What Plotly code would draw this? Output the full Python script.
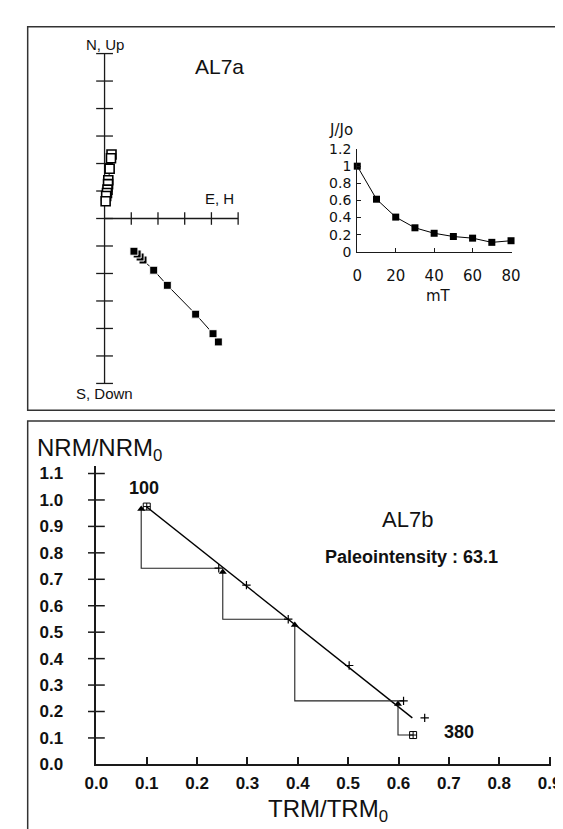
import plotly.graph_objects as go

W, H = 563, 829

# ---------------- data ----------------
# Zijderveld diagram (arbitrary units, axis tick spacing = 1)
zij_open_x = [0.26, 0.24, 0.19, 0.14, 0.13, 0.11, 0.09, 0.06, 0.04]
zij_open_y = [2.33, 2.19, 1.81, 1.39, 1.25, 1.05, 0.93, 0.82, 0.63]
zij_fill_x = [4.26, 4.06, 3.41, 2.35, 1.84, 1.44, 1.33, 1.22, 1.10]
zij_fill_y = [-4.49, -4.19, -3.48, -2.43, -1.88, -1.51, -1.40, -1.29, -1.19]
zij_vert_ticks = [-6, -5, -4, -3, -2, -1, 0, 1, 2, 3, 4, 5, 6]
zij_horz_ticks = [1, 2, 3, 4, 5]

# J/Jo vs AF field
af_mT = [0, 10, 20, 30, 40, 50, 60, 70, 80]
j_jo = [1.00, 0.614, 0.405, 0.28, 0.216, 0.178, 0.159, 0.11, 0.129]
jjo_yticks = [0, 0.2, 0.4, 0.6, 0.8, 1.0, 1.2]
jjo_yticktext = ["0", "0.2", "0.4", "0.6", "0.8", "1", "1.2"]
jjo_xticks = [0, 20, 40, 60, 80]

# Arai plot
arai_trm = [0.100, 0.243, 0.298, 0.381, 0.502, 0.610, 0.629]
arai_nrm = [0.975, 0.742, 0.678, 0.549, 0.374, 0.240, 0.111]
arai_temp_first, arai_temp_last = "100", "380"
extra_trm = [0.652]
extra_nrm = [0.176]
fit_trm = [0.0996, 0.6275]
fit_nrm = [0.974, 0.176]
check_trm = [0.089, 0.251, 0.394, 0.599]
check_nrm = [0.966, 0.728, 0.527, 0.228]
check_end_trm = [0.243, 0.381, 0.610, 0.629]
check_end_nrm = [0.742, 0.549, 0.240, 0.111]
arai_xticks = [0.0, 0.1, 0.2, 0.3, 0.4, 0.5, 0.6, 0.7, 0.8, 0.9]
arai_yticks = [0.0, 0.1, 0.2, 0.3, 0.4, 0.5, 0.6, 0.7, 0.8, 0.9, 1.0, 1.1]
paleointensity = 63.1

# ---------------- helpers (pixel layout) ----------------
def xdom(p0, p1):
    return [p0 / W, p1 / W]

def ydom(top, bottom):
    return [1 - bottom / H, 1 - top / H]

def px(x):
    return x / W

def py(y):
    return 1 - y / H

AX = "#1a1a1a"
ARIAL = "Liberation Sans, Arial, sans-serif"
GENEVA = "DejaVu Sans, Verdana, sans-serif"

fig = go.Figure()

# ---------------- Zijderveld ----------------
zx0, zy0, zux, zuy = 88.0, 207.0, 27.8, 28.1
z_left, z_right, z_top, z_bot = 8, 563, 11, 403
zxr = [(z_left - zx0) / zux, (z_right - zx0) / zux]
zyr = [(zy0 - z_bot) / zuy, (zy0 - z_top) / zuy]

ax_x = [0, 0, None, 0, zij_horz_ticks[-1]]
ax_y = [zij_vert_ticks[0], zij_vert_ticks[-1], None, 0, 0]
fig.add_trace(go.Scatter(x=ax_x, y=ax_y, mode="lines", line=dict(color=AX, width=1.3),
                         xaxis="x", yaxis="y", hoverinfo="skip", showlegend=False))
fig.add_trace(go.Scatter(x=[0] * len(zij_vert_ticks), y=zij_vert_ticks, mode="markers",
                         marker=dict(symbol="line-ew", size=12, color=AX, line=dict(color=AX, width=1.3)),
                         xaxis="x", yaxis="y", hoverinfo="skip", showlegend=False, cliponaxis=False))
fig.add_trace(go.Scatter(x=zij_horz_ticks, y=[0] * len(zij_horz_ticks), mode="markers",
                         marker=dict(symbol="line-ns", size=9, color=AX, line=dict(color=AX, width=1.3)),
                         xaxis="x", yaxis="y", hoverinfo="skip", showlegend=False, cliponaxis=False))
fig.add_trace(go.Scatter(x=zij_open_x, y=zij_open_y, mode="lines+markers",
                         line=dict(color="black", width=1),
                         marker=dict(symbol="square", size=9, color="white",
                                     line=dict(color="black", width=1.6)),
                         xaxis="x", yaxis="y", showlegend=False))
fig.add_trace(go.Scatter(x=zij_fill_x, y=zij_fill_y, mode="lines+markers",
                         line=dict(color="black", width=1),
                         marker=dict(symbol="square", size=8, color="black",
                                     line=dict(color="white", width=1)),
                         xaxis="x", yaxis="y", showlegend=False))

# ---------------- J/Jo inset ----------------
fig.add_trace(go.Scatter(x=af_mT, y=j_jo, mode="lines+markers",
                         line=dict(color="black", width=1),
                         marker=dict(symbol="square", size=7, color="black"),
                         xaxis="x2", yaxis="y2", showlegend=False, cliponaxis=False))

# ---------------- Arai plot ----------------
ax0, ay0, aux, auy = 79.5, 765.0, 524.0, 270.3
a_right, a_top = 553.0, 460.0
axr = [0, (a_right - ax0) / aux]
ayr = [0, (ay0 - a_top) / auy]

fig.add_trace(go.Scatter(x=[0] * (len(arai_yticks) - 1), y=arai_yticks[1:], mode="markers",
                         marker=dict(symbol="line-ew", size=12, color=AX, line=dict(color=AX, width=1.5)),
                         xaxis="x3", yaxis="y3", hoverinfo="skip", showlegend=False, cliponaxis=False))
fig.add_trace(go.Scatter(x=fit_trm, y=fit_nrm, mode="lines", line=dict(color="black", width=1.4),
                         xaxis="x3", yaxis="y3", showlegend=False))
cx, cy = [], []
for t, n, te, ne in zip(check_trm, check_nrm, check_end_trm, check_end_nrm):
    cx += [t, t, te, None]
    cy += [n, ne, ne, None]
fig.add_trace(go.Scatter(x=cx, y=cy, mode="lines", line=dict(color="#222", width=1.1),
                         xaxis="x3", yaxis="y3", showlegend=False))
fig.add_trace(go.Scatter(x=check_trm, y=check_nrm, mode="markers",
                         marker=dict(symbol="triangle-up", size=7, color="black"),
                         xaxis="x3", yaxis="y3", showlegend=False))
fig.add_trace(go.Scatter(x=arai_trm[1:-1] + extra_trm, y=arai_nrm[1:-1] + extra_nrm, mode="markers",
                         marker=dict(symbol="cross-thin-open", size=6, color="black",
                                     line=dict(color="black", width=1.2)),
                         xaxis="x3", yaxis="y3", showlegend=False))
fig.add_trace(go.Scatter(x=[arai_trm[0], arai_trm[-1]], y=[arai_nrm[0], arai_nrm[-1]], mode="markers",
                         marker=dict(symbol="square-cross-open", size=7, color="black",
                                     line=dict(color="black", width=1)),
                         xaxis="x3", yaxis="y3", showlegend=False, cliponaxis=False))

# ---------------- layout ----------------
hidden = dict(visible=False, showgrid=False, zeroline=False)
fig.update_layout(
    width=W, height=H,
    margin=dict(l=0, r=0, t=0, b=0),
    paper_bgcolor="white", plot_bgcolor="rgba(0,0,0,0)",
    showlegend=False,
    xaxis=dict(domain=xdom(z_left, z_right), range=zxr, **hidden),
    yaxis=dict(domain=ydom(z_top, z_bot), range=zyr, **hidden),
    xaxis2=dict(domain=xdom(351, 512), range=[0, 80.5], anchor="y2",
                showline=True, linecolor=AX, linewidth=1.3, showgrid=False, zeroline=False,
                ticks="inside", ticklen=4, tickcolor=AX, tickvals=jjo_xticks,
                tickfont=dict(family=GENEVA, size=15, color="#111"), ticklabelstandoff=10),
    yaxis2=dict(domain=ydom(136, 241), range=[0, 1.2], anchor="x2",
                showline=True, linecolor=AX, linewidth=1.3, showgrid=False, zeroline=False,
                ticks="inside", ticklen=4, tickcolor=AX, tickvals=jjo_yticks,
                ticktext=jjo_yticktext,
                tickfont=dict(family=GENEVA, size=14, color="#111"), ticklabelstandoff=2),
    xaxis3=dict(domain=xdom(ax0, a_right), range=axr, anchor="y3",
                showline=True, linecolor=AX, linewidth=1.6, showgrid=False, zeroline=False,
                ticks="inside", ticklen=8, tickwidth=1.6, tickcolor=AX, tickvals=arai_xticks,
                tickformat=".1f",
                tickfont=dict(family=ARIAL, size=17, color="#111", weight="bold"), ticklabelstandoff=2),
    yaxis3=dict(domain=ydom(a_top, ay0), range=ayr, anchor="x3",
                showline=True, linecolor=AX, linewidth=1.6, showgrid=False, zeroline=False,
                ticks="", tickvals=arai_yticks, tickformat=".1f",
                tickfont=dict(family=ARIAL, size=17, color="#111", weight="bold"), ticklabelstandoff=28),
)

# panel frames
fig.add_shape(type="rect", xref="paper", yref="paper", x0=px(8), x1=px(575), y0=py(403), y1=py(11),
              line=dict(color="#333", width=1.5))
fig.add_shape(type="rect", xref="paper", yref="paper", x0=px(8), x1=px(575), y0=py(845), y1=py(414),
              line=dict(color="#333", width=1.5))

def ann(text, x, y, size, family=ARIAL, bold=False, xanchor="center", yanchor="middle", **kw):
    fig.add_annotation(text=text, x=px(x), y=py(y), xref="paper", yref="paper",
                       xanchor=xanchor, yanchor=yanchor, showarrow=False,
                       font=dict(family=family, size=size, color="#111",
                                 weight="bold" if bold else "normal"), **kw)

ann("N, Up", 88, 29, 15)
ann("E, H", 208, 187, 15)
ann("S, Down", 88, 386, 15)
ann("AL7a", 208, 52, 21)
ann("J/Jo", 334, 117, 15, family=GENEVA)
ann("mT", 435, 286, 15, family=GENEVA)

ann("NRM/NRM<sub>0</sub>", 16, 443, 24, xanchor="left")
ann("TRM/TRM<sub>0</sub>", 321, 812, 24)
ann("AL7b", 403, 515, 22)
ann(f"Paleointensity : {paleointensity}", 407, 553, 18, bold=True)

fig.add_annotation(text=arai_temp_first, x=arai_trm[0], y=arai_nrm[0], xref="x3", yref="y3",
                   showarrow=False, xshift=-3, yshift=19,
                   font=dict(family=ARIAL, size=18, color="#111", weight="bold"))
fig.add_annotation(text=arai_temp_last, x=arai_trm[-1], y=arai_nrm[-1], xref="x3", yref="y3",
                   showarrow=False, xshift=46, yshift=3,
                   font=dict(family=ARIAL, size=18, color="#111", weight="bold"))

fig.write_html("out.html")
